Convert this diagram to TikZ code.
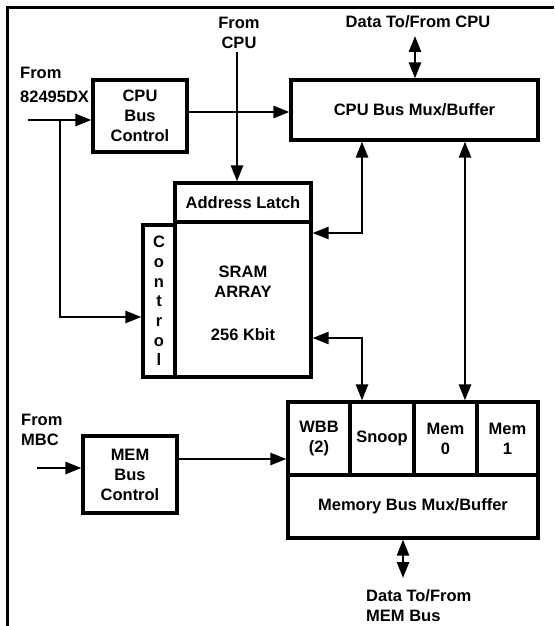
\documentclass[tikz,border=0pt]{standalone}
\usepackage{fontspec}
\setmainfont{Liberation Sans}
\usetikzlibrary{arrows.meta}
\begin{document}
\begin{tikzpicture}[x=1pt,y=-1pt,
  every node/.style={font=\bfseries\fontsize{16.5}{20}\selectfont, inner sep=0pt},
  blk/.style={draw, line width=3.2pt, align=center},
  lbl/.style={align=left, anchor=west},
  conn/.style={line width=2.6pt},
  arr/.style={conn, -{Triangle[length=16pt,width=12pt]}},
  darr/.style={conn, {Triangle[length=16pt,width=12pt]}-{Triangle[length=16pt,width=12pt]}},
  frame/.style={line width=3pt}
]
\useasboundingbox (0,0) rectangle (554,626);
% frame
\coordinate (fbl) at (7,626);
\coordinate (ftl) at (7,8);
\coordinate (ftr) at (554,8);
\draw[frame] (fbl) -- (ftl) -- (ftr);

% blocks
\node[blk, minimum width=94pt, minimum height=72pt] (cbc) at (140,116) {CPU\\Bus\\Control};
\node[blk, minimum width=247pt, minimum height=60pt] (mux) at (414.5,110) {CPU Bus Mux/Buffer};
\node[blk, minimum width=136pt, minimum height=39pt] (al) at (243,202.5) {Address Latch};
\node[blk, minimum width=136pt, minimum height=155pt] (sram) at (243,299.5) {};
\node[align=center] (sramtxt) at (243,303.5) {SRAM\\ARRAY\\[23pt]256 Kbit};
\node[blk, minimum width=32pt, minimum height=152pt, font=\bfseries\fontsize{16.5}{19.7}\selectfont] (ctl) at (159,301) {C\\o\\n\\t\\r\\o\\l};
\node[blk, minimum width=94pt, minimum height=77pt] (mbc) at (130,474.5) {MEM\\Bus\\Control};
\node[blk, minimum width=62pt, minimum height=73pt] (wbb) at (319,438.5) {WBB\\(2)};
\node[blk, minimum width=64pt, minimum height=73pt] (snoop) at (382,438.5) {Snoop};
\node[blk, minimum width=63pt, minimum height=73pt] (mem0) at (445.5,438.5) {Mem\\0};
\node[blk, minimum width=61pt, minimum height=73pt] (mem1) at (507.5,438.5) {Mem\\1};
\node[blk, minimum width=250pt, minimum height=63pt] (mbm) at (413,506.5) {Memory Bus Mux/Buffer};

% labels
\node[lbl] (l82) at (20,85) {From\\[4pt]82495DX};
\node[align=center] (lcpu) at (239,32.5) {From\\CPU};
\node (ldcpu) at (418,22) {Data To/From CPU};
\node[lbl] (lmbc) at (21,430) {From\\MBC};
\node[lbl] (ldmem) at (366,606) {Data To/From\\MEM Bus};

% helper coordinates
\coordinate (in82) at (28,120);
\coordinate (br) at (60,120);
\coordinate (ctlin) at (143,317);
\coordinate (y112) at (0,112);
\coordinate (fcpu) at (237,52);
\coordinate (dcpu) at (415,36);
\coordinate (xa) at (362,0);
\coordinate (xb) at (465,0);
\coordinate (ya) at (0,233);
\coordinate (yc) at (0,338);
\coordinate (inmbc) at (37,468);
\coordinate (y459) at (0,459);
\coordinate (dmem) at (403,578);

% connectors
\draw[arr] (in82) -- (in82 -| cbc.west);
\draw[arr] (br) |- (ctlin -| ctl.west);
\draw[arr] (cbc.east |- y112) -- (mux.west |- y112);
\draw[arr] (fcpu) -- (fcpu |- al.north);
\draw[darr] (dcpu) -- (dcpu |- mux.north);
\draw[darr] (xa |- mux.south) |- (sram.east |- ya);
\draw[darr] (xb |- mux.south) -- (xb |- mem0.north);
\draw[darr] (sram.east |- yc) -| (xa |- snoop.north);
\draw[arr] (inmbc) -- (inmbc -| mbc.west);
\draw[arr] (mbc.east |- y459) -- (wbb.west |- y459);
\draw[darr] (mbm.south -| dmem) -- (dmem);
\end{tikzpicture}
\end{document}
